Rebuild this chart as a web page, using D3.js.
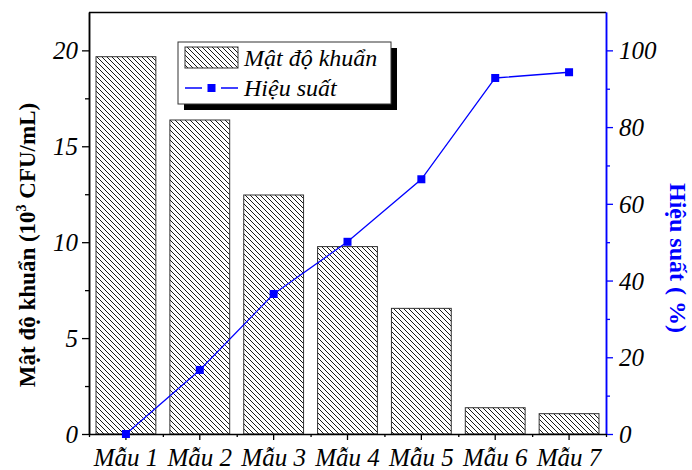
<!DOCTYPE html>
<html>
<head>
<meta charset="utf-8">
<script src="https://cdn.jsdelivr.net/npm/d3@7"></script>
<style>
  body { margin: 0; background: #fff; }
</style>
</head>
<body>
<div id="chart"></div>
<script>
// data
const samples = ['Mẫu 1', 'Mẫu 2', 'Mẫu 3', 'Mẫu 4', 'Mẫu 5', 'Mẫu 6', 'Mẫu 7'];
const density = [19.67, 16.37, 12.46, 9.77, 6.55, 1.37, 1.06];
const efficiency = [0, 16.7, 36.5, 50.1, 66.4, 92.8, 94.3];
const leftTicks = [0, 5, 10, 15, 20];
const leftMinor = [2.5, 7.5, 12.5, 17.5];
const rightTicks = [0, 20, 40, 60, 80, 100];
const rightMinor = [10, 30, 50, 70, 90];

const W = 692, H = 470;
const L = 89, R = 606, T = 12, B = 434;
const SERIF = '"Liberation Serif", "Times New Roman", serif';

const svg = d3.select('#chart').append('svg')
  .attr('width', W).attr('height', H)
  .style('font-family', SERIF);

// hatch pattern for bars
const defs = svg.append('defs');
defs.append('pattern')
  .attr('id', 'hatch')
  .attr('patternUnits', 'userSpaceOnUse')
  .attr('width', 5).attr('height', 5)
  .append('path')
  .attr('d', 'M-1,-1 L6,6 M-1,4 L1,6 M4,-1 L6,1')
  .attr('stroke', '#000')
  .attr('stroke-width', 0.9);

const x = d3.scaleBand().domain(samples).range([L, R]).paddingInner(0.19).paddingOuter(0.095);
const xEdge = d3.scaleLinear().domain([0, samples.length]).range([L, R]);
const yL = d3.scaleLinear().domain([0, 22]).range([B, T]);
const yR = d3.scaleLinear().domain([0, 110]).range([B, T]);

// bars
svg.append('g').selectAll('rect')
  .data(density)
  .enter()
  .append('rect')
  .attr('x', (d, i) => x(samples[i]))
  .attr('y', d => yL(d))
  .attr('width', x.bandwidth())
  .attr('height', d => yL(0) - yL(d))
  .attr('fill', 'url(#hatch)')
  .attr('stroke', '#333')
  .attr('stroke-width', 1);

// frame top
svg.append('line')
  .attr('x1', L).attr('x2', R).attr('y1', T + 0.5).attr('y2', T + 0.5)
  .attr('stroke', '#000').attr('stroke-width', 1.3);

const styleAxis = (g, color) => {
  g.attr('font-family', null).attr('font-size', null);
  g.select('.domain').attr('stroke', color).attr('stroke-width', 1.5);
  g.selectAll('.tick line').attr('stroke', color).attr('stroke-width', 1.3);
  g.selectAll('text')
    .style('font-family', SERIF)
    .style('font-style', 'italic')
    .style('font-size', '25px')
    .attr('fill', '#000');
};

// left axis
svg.append('g')
  .attr('transform', `translate(${L},0)`)
  .call(d3.axisLeft(yL).tickValues(leftMinor).tickSize(4).tickFormat('').tickSizeOuter(0))
  .call(g => styleAxis(g, '#000'));
svg.append('g')
  .attr('transform', `translate(${L},0)`)
  .call(d3.axisLeft(yL).tickValues(leftTicks).tickSize(7).tickPadding(4).tickSizeOuter(0))
  .call(g => styleAxis(g, '#000'))
  .call(g => g.selectAll('text').attr('dy', '0.34em'));

// right axis
svg.append('g')
  .attr('transform', `translate(${R},0)`)
  .call(d3.axisRight(yR).tickValues(rightMinor).tickSize(4).tickFormat('').tickSizeOuter(0))
  .call(g => styleAxis(g, '#0000ff'));
svg.append('g')
  .attr('transform', `translate(${R},0)`)
  .call(d3.axisRight(yR).tickValues(rightTicks).tickSize(7).tickPadding(6).tickSizeOuter(0))
  .call(g => styleAxis(g, '#0000ff'))
  .call(g => g.selectAll('text').attr('dy', '0.34em'));

// bottom axis
svg.append('g')
  .attr('transform', `translate(0,${B})`)
  .call(d3.axisBottom(xEdge).tickValues(d3.range(samples.length + 1)).tickSize(3).tickFormat('').tickSizeOuter(0))
  .call(g => styleAxis(g, '#000'));
svg.append('g')
  .attr('transform', `translate(0,${B})`)
  .call(d3.axisBottom(x).tickSize(6).tickPadding(8).tickSizeOuter(0))
  .call(g => styleAxis(g, '#000'))
  .call(g => g.select('.domain').remove());

// efficiency line
const line = d3.line()
  .x((d, i) => x(samples[i]) + x.bandwidth() / 2)
  .y(d => yR(d));
svg.append('path')
  .datum(efficiency)
  .attr('d', line)
  .attr('fill', 'none')
  .attr('stroke', '#0000ff')
  .attr('stroke-width', 1.3);
svg.append('g').selectAll('rect')
  .data(efficiency)
  .enter()
  .append('rect')
  .attr('x', (d, i) => x(samples[i]) + x.bandwidth() / 2 - 4)
  .attr('y', d => yR(d) - 4)
  .attr('width', 8).attr('height', 8)
  .attr('fill', '#0000ff');

// axis titles
svg.append('text')
  .attr('transform', `translate(35,245) rotate(-90)`)
  .attr('text-anchor', 'middle')
  .style('font-family', SERIF)
  .style('font-weight', 'bold')
  .style('font-size', '23px')
  .attr('fill', '#000')
  .call(t => {
    t.append('tspan').text('Mật độ khuẩn (10');
    t.append('tspan').attr('dy', -9).style('font-size', '14px').text('3');
    t.append('tspan').attr('dy', 9).text(' CFU/mL)');
  });

svg.append('text')
  .attr('transform', `translate(670,258) rotate(90)`)
  .attr('text-anchor', 'middle')
  .style('font-family', SERIF)
  .style('font-weight', 'bold')
  .style('font-size', '24px')
  .attr('fill', '#0000ff')
  .text('Hiệu suất ( %)');

// legend
const lg = svg.append('g');
lg.append('rect')
  .attr('x', 184).attr('y', 48).attr('width', 213).attr('height', 62)
  .attr('fill', '#000');
lg.append('rect')
  .attr('x', 178).attr('y', 42).attr('width', 213).attr('height', 62)
  .attr('fill', '#fff').attr('stroke', '#333').attr('stroke-width', 1);
lg.append('rect')
  .attr('x', 185).attr('y', 47).attr('width', 53).attr('height', 21)
  .attr('fill', 'url(#hatch)').attr('stroke', '#333');
lg.append('line')
  .attr('x1', 185).attr('x2', 238).attr('y1', 88).attr('y2', 88)
  .attr('stroke', '#0000ff').attr('stroke-width', 1.3);
lg.append('line')
  .attr('x1', 202).attr('x2', 221).attr('y1', 88).attr('y2', 88)
  .attr('stroke', '#fff').attr('stroke-width', 3);
lg.append('rect')
  .attr('x', 207.5).attr('y', 84).attr('width', 8).attr('height', 8)
  .attr('fill', '#0000ff');
lg.append('text')
  .attr('x', 244).attr('y', 66)
  .style('font-family', SERIF)
  .style('font-style', 'italic').style('font-size', '24px')
  .text('Mật độ khuẩn');
lg.append('text')
  .attr('x', 244).attr('y', 96)
  .style('font-family', SERIF)
  .style('font-style', 'italic').style('font-size', '24px')
  .text('Hiệu suất');
</script>
</body>
</html>
